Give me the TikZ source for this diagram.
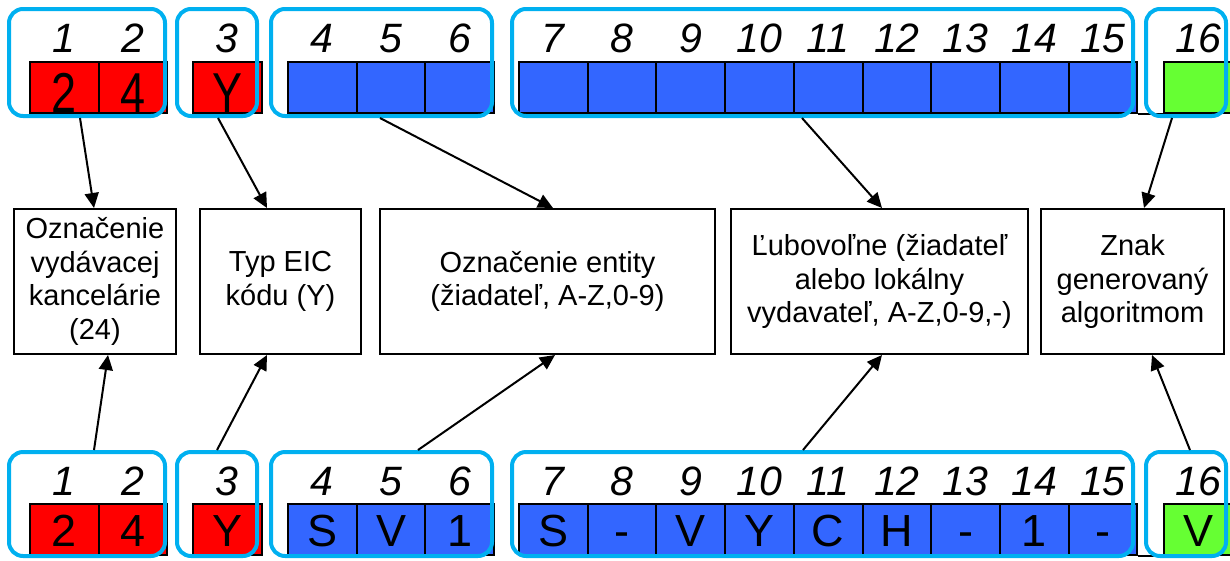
\documentclass[tikz,border=0pt]{standalone}
\usepackage{fontspec}
\setmainfont{Liberation Sans}
\usetikzlibrary{arrows.meta}
\definecolor{eicred}{HTML}{FF0000}
\definecolor{eicblue}{HTML}{3366FF}
\definecolor{eicgreen}{HTML}{66FF33}
\definecolor{grpline}{HTML}{00B0F0}
\begin{document}
\begin{tikzpicture}[x=1pt,y=-1pt]
   \tikzset{cell/.style = {draw,line width=2pt,minimum width=68.7pt,minimum height=51pt,inner sep=0pt}}
   \tikzset{idx/.style = {anchor=base,inner sep=0pt,font=\fontsize{41}{41}\selectfont\itshape}}
   \tikzset{chr/.style = {anchor=base,inner sep=0pt,font=\fontsize{45}{45}\selectfont}}
   \tikzset{grp/.style = {draw=grpline,line width=4pt,rounded corners=14pt,inner sep=0pt}}
   \tikzset{popis/.style = {draw,line width=2pt,minimum height=145pt,align=center,inner sep=0pt,font=\fontsize{29}{33.5}\selectfont}}
   \tikzset{sip/.style = {line width=2pt,-{Triangle[length=15pt,width=14pt]}}}
   \useasboundingbox (0,0) rectangle (1230,560);

   \foreach \i/\x/\col in {1/64.35/eicred, 2/133.05/eicred, 3/227.35/eicred,
      4/322.35/eicblue, 5/391.05/eicblue, 6/459.75/eicblue, 7/553.35/eicblue,
      8/622.05/eicblue, 9/690.75/eicblue, 10/759.45/eicblue, 11/828.15/eicblue,
      12/896.85/eicblue, 13/965.55/eicblue, 14/1034.25/eicblue, 15/1102.95/eicblue,
      16/1198.35/eicgreen} {
      \node[cell,fill=\col] (up\i) at (\x,87.5) {};
      \node[cell,fill=\col] (lo\i) at (\x,529.5) {};
      \node[idx] (nu\i) at (\x,52) {\i};
      \node[idx] (nl\i) at (\x,495) {\i};
   }
   \draw[line width=2pt] (up15.south east) -- (up16.south west);
   \draw[line width=2pt] (lo15.south east) -- (lo16.south west);

   \foreach \i/\ch in {1/2, 2/4, 3/Y}
      \node[chr] (cu\i) at ([yshift=2pt]up\i.south) {\scalebox{1}[1.25]{\ch}};
   \foreach \i/\ch in {1/2, 2/4, 3/Y, 4/S, 5/V, 6/1, 7/S, 8/-, 9/V, 10/Y,
      11/C, 12/H, 13/-, 14/1, 15/-, 16/V}
      \node[chr] (cl\i) at ([yshift=10pt]lo\i.south) {\ch};

   \foreach \g/\x/\w in {1/87/156, 2/217/80, 3/381.5/221, 4/822.5/621, 5/1186/80} {
      \node[grp,minimum width=\w pt,minimum height=107pt] (gt\g) at (\x,62.5) {};
      \node[grp,minimum width=\w pt,minimum height=104pt] (gb\g) at (\x,504) {};
   }

   \node[popis,minimum width=162pt] (kancelaria) at (95,281.5) {Označenie\\vydávacej\\kancelárie\\(24)};
   \node[popis,minimum width=161pt] (typ) at (280.5,281.5) {Typ EIC\\kódu (Y)};
   \node[popis,minimum width=335pt] (entita) at (547.5,281.5) {Označenie entity\\(žiadateľ, A-Z,0-9)};
   \node[popis,minimum width=297pt] (lubovolne) at (879.5,281.5) {Ľubovoľne (žiadateľ\\alebo lokálny\\vydavateľ, A-Z,0-9,-)};
   \node[popis,minimum width=183pt] (znak) at (1132.5,281.5) {Znak\\generovaný\\algoritmom};

   \draw[sip] ([xshift=-7pt]gt1.south) -- ([xshift=-1pt]kancelaria.north);
   \draw[sip] ([xshift=1pt]gt2.south) -- ([xshift=-13.5pt]typ.north);
   \draw[sip] ([xshift=-1.5pt]gt3.south) -- ([xshift=5.5pt]entita.north);
   \draw[sip] ([xshift=-20.5pt]gt4.south) -- ([xshift=2.5pt]lubovolne.north);
   \draw[sip] ([xshift=-14pt]gt5.south) -- ([xshift=11.5pt]znak.north);
   \draw[sip] ([xshift=7pt]gb1.north) -- ([xshift=13pt]kancelaria.south);
   \draw[sip] (gb2.north) -- ([xshift=-13.5pt]typ.south);
   \draw[sip] ([xshift=36.5pt]gb3.north) -- ([xshift=7.5pt]entita.south);
   \draw[sip] ([xshift=-19.5pt]gb4.north) -- ([xshift=2.5pt]lubovolne.south);
   \draw[sip] ([xshift=4pt]gb5.north) -- ([xshift=19.5pt]znak.south);
  \end{tikzpicture}
\end{document}
